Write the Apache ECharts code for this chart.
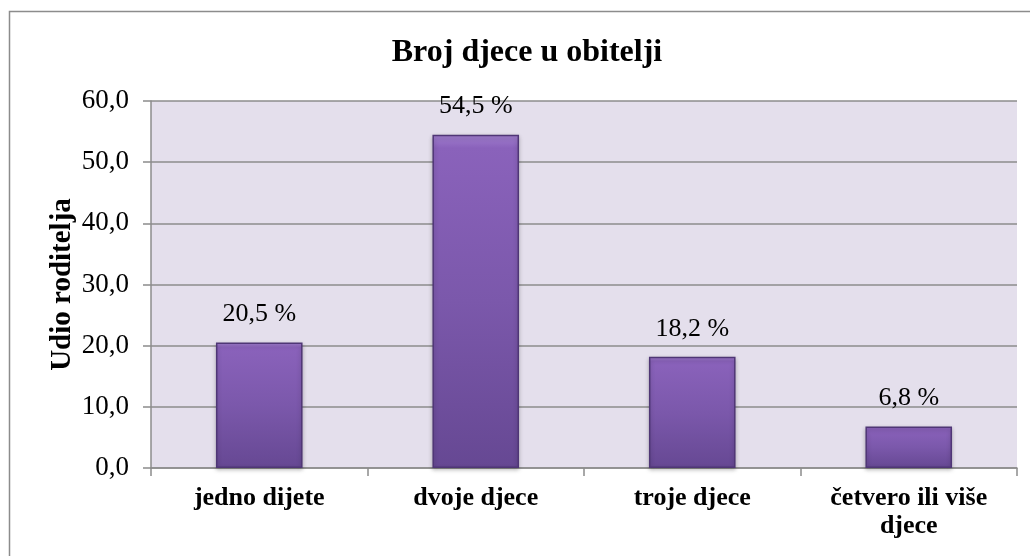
<!DOCTYPE html>
<html><head><meta charset="utf-8">
<script src="https://cdn.jsdelivr.net/npm/echarts@6/dist/echarts.min.js"></script>
<style>html,body{margin:0;padding:0;background:#fff}#c{width:1030px;height:556px}</style>
</head><body><div id="c"></div>
<script>
const categories = ['jedno dijete', 'dvoje djece', 'troje djece', 'četvero ili više\ndjece'];
const values = [20.5, 54.5, 18.2, 6.8];
const yTicks = [0, 10, 20, 30, 40, 50, 60];
const titleText = 'Broj djece u obitelji';
const yName = 'Udio roditelja';

const chart = echarts.init(document.getElementById('c'));
const font = '"Liberation Serif", "Times New Roman", serif';
chart.setOption({
  animation: false,
  textStyle: { fontFamily: font },
  graphic: [
    { type: 'rect', shape: { x: 9.5, y: 11.5, width: 1040, height: 560 }, style: { fill: 'none', stroke: '#8c8c8c', lineWidth: 1.5 }, z: -1 },
    { type: 'text', x: 527, y: 53, style: { text: titleText, fontFamily: font, fontSize: 32, fontWeight: 'bold', fill: '#000', textAlign: 'center', textVerticalAlign: 'middle' } }
  ],
  grid: { left: 151, right: 13, top: 101, bottom: 88, backgroundColor: '#e4dfec', show: true, borderWidth: 0 },
  xAxis: {
    type: 'category', data: categories,
    axisLine: { lineStyle: { color: '#8c8c8c', width: 1.5 } },
    axisTick: { show: true, length: 8, lineStyle: { color: '#8c8c8c', width: 1.5 } },
    axisLabel: { fontFamily: font, fontSize: 26, fontWeight: 'bold', color: '#000', margin: 16, lineHeight: 28 }
  },
  yAxis: {
    type: 'value', min: 0, max: 60, interval: 10,
    name: yName, nameLocation: 'middle', nameGap: 74, nameRotate: 90, nameMoveOverlap: false,
    nameTextStyle: { fontFamily: font, fontSize: 29, fontWeight: 'bold', color: '#000' },
    axisLine: { show: true, lineStyle: { color: '#8c8c8c', width: 1.5 } },
    axisTick: { show: true, length: 8, lineStyle: { color: '#8c8c8c', width: 1.5 } },
    splitLine: { lineStyle: { color: '#8c8c8c', width: 1.5 } },
    axisLabel: { fontFamily: font, fontSize: 27, color: '#000', margin: 22,
      formatter: v => yTicks.includes(v) ? v.toFixed(1).replace('.', ',') : '' }
  },
  series: [{
    type: 'bar', data: values, barWidth: '40%',
    itemStyle: {
      color: new echarts.graphic.LinearGradient(0, 0, 0, 1, [
        { offset: 0, color: '#a27fd0' }, { offset: 0.04, color: '#8a62bb' }, { offset: 0.5, color: '#7b58ab' }, { offset: 1, color: '#664893' }
      ]),
      borderColor: '#4f3676', borderWidth: 1.5,
      shadowColor: 'rgba(0,0,0,0.25)', shadowBlur: 4, shadowOffsetY: 2
    },
    label: { show: true, position: 'top', distance: 15, fontFamily: font, fontSize: 26, color: '#000',
      formatter: p => p.value.toFixed(1).replace('.', ',') + ' %' }
  }]
});
</script></body></html>
